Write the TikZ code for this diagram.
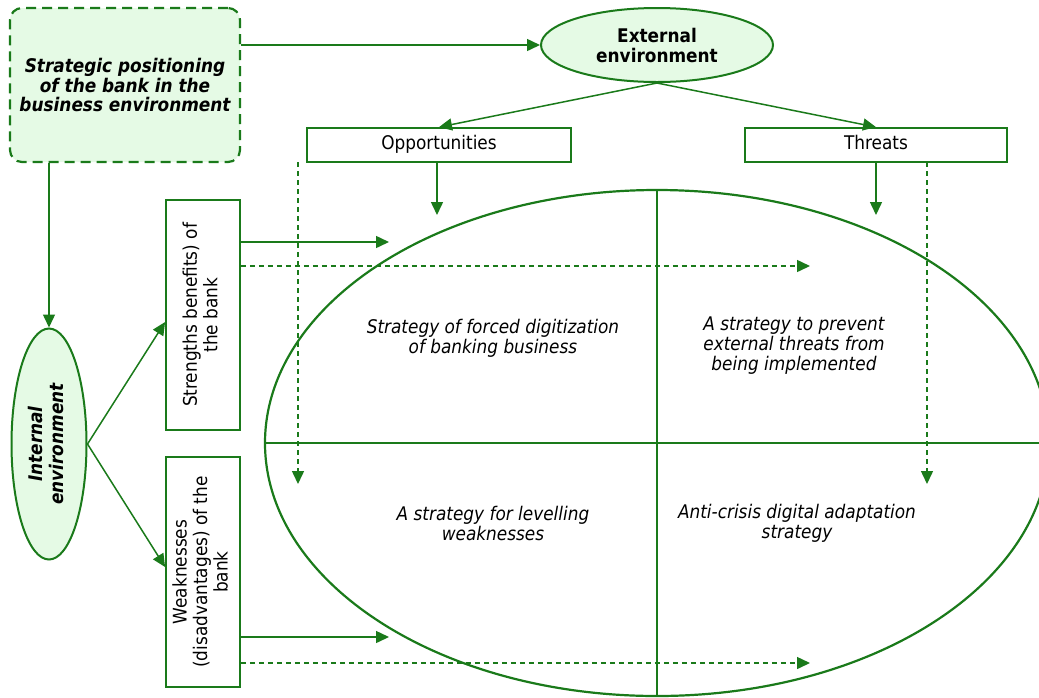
\documentclass[tikz,border=0pt]{standalone}
\usepackage{fontspec}
\setmainfont{DejaVu Sans Condensed}
\usetikzlibrary{shapes.geometric,arrows.meta}
\definecolor{swgreen}{RGB}{26,122,26}
\definecolor{swfill}{RGB}{229,250,229}

\begin{document}
\begin{tikzpicture}[x=1pt,y=-1pt,
  conn/.style={draw=swgreen, line width=1.5pt, -{Triangle[length=13pt,width=12pt]}},
  dconn/.style={conn, dash pattern=on 5pt off 4pt},
  plainbox/.style={draw=swgreen, line width=1.8pt, rectangle, inner sep=0pt,
    font=\fontsize{18.8}{20.5}\selectfont, text=black, align=center},
  envell/.style={draw=swgreen, fill=swfill, line width=2pt, ellipse, inner sep=0pt,
    font=\fontsize{18.8}{20}\selectfont\bfseries, text=black, align=center},
  quad/.style={font=\fontsize{18.8}{20}\selectfont\itshape, align=center, text=black},
]
\useasboundingbox (0,0) rectangle (1039,697);

% SWOT matrix: large ellipse split into four quadrants
\begin{scope}
  \clip (0,0) rectangle (1039,697);
  \draw[swgreen, line width=2.2pt] (657,443) ellipse [x radius=392pt, y radius=253pt];
  \draw[swgreen, line width=1.4pt] (265,443) -- (1039,443);
  \draw[swgreen, line width=1.4pt] (657,190) -- (657,697);
\end{scope}

% main blocks
\node[draw=swgreen, fill=swfill, line width=2.2pt, dash pattern=on 10pt off 6pt,
  rounded corners=12pt, minimum width=230pt, minimum height=154pt, inner sep=0pt,
  font=\fontsize{18.8}{19.5}\selectfont\bfseries\itshape, align=center]
  (strat) at (125,85) {Strategic positioning\\of the bank in the\\business environment};
\node[envell, minimum width=232pt, minimum height=74pt] (ext) at (657,45)
  {External\\environment};
\node[plainbox, minimum width=264pt, minimum height=34pt, text height=13pt, text depth=4pt]
  (opp) at (439,145) {Opportunities};
\node[plainbox, minimum width=262pt, minimum height=34pt, text height=13pt, text depth=4pt]
  (thr) at (876,145) {Threats};
\node[envell, minimum width=75pt, minimum height=231pt, font=\fontsize{18.8}{21}\selectfont\bfseries\itshape]
  (intl) at (49,444) {\rotatebox{90}{\begin{tabular}{@{}c@{}}Internal\\environment\end{tabular}}};
\node[plainbox, minimum width=74pt, minimum height=230pt] (str) at (203,315)
  {\rotatebox{90}{\begin{tabular}{@{}c@{}}Strengths benefits) of\\the bank\end{tabular}}};
\node[plainbox, minimum width=74pt, minimum height=230pt] (weak) at (203,572)
  {\rotatebox{90}{\begin{tabular}{@{}c@{}}Weaknesses\\(disadvantages) of the\\bank\end{tabular}}};

% strategy labels in the quadrants
\node[quad] (so) at (493,338) {Strategy of forced digitization\\of banking business};
\node[quad] (st) at (794,346) {A strategy to prevent\\external threats from\\being implemented};
\node[quad] (wo) at (493,523) {A strategy for levelling\\weaknesses};
\node[quad] (wt) at (797,523) {Anti-crisis digital adaptation\\strategy};

% arrow targets inside the matrix
\coordinate (oppT) at (437,215);
\coordinate (thrT) at (876,215);
\coordinate (oppD0) at (298,162);
\coordinate (oppD1) at (298,484);
\coordinate (thrD0) at (927,162);
\coordinate (thrD1) at (927,484);
\coordinate (strS) at (389,242);
\coordinate (strD) at (810,266);
\coordinate (weakS) at (389,637);
\coordinate (weakD) at (810,663);

% connectors
\draw[conn] (strat.east |- ext.west) -- (ext.west);
\draw[conn] (ext.south) -- (opp.north);
\draw[conn] (ext.south) -- (thr.north);
\draw[conn] (opp.south -| oppT) -- (oppT);
\draw[conn] (thr.south) -- (thrT);
\draw[dconn] (oppD0) -- (oppD1);
\draw[dconn] (thrD0) -- (thrD1);
\draw[conn] (strat.south -| intl.north) -- (intl.north);
\draw[conn] (intl.east) -- (str.west |- 0,322);
\draw[conn] (intl.east) -- (weak.west |- 0,567);
\draw[conn] (str.east |- strS) -- (strS);
\draw[dconn] (str.east |- strD) -- (strD);
\draw[conn] (weak.east |- weakS) -- (weakS);
\draw[dconn] (weak.east |- weakD) -- (weakD);
\end{tikzpicture}
\end{document}
